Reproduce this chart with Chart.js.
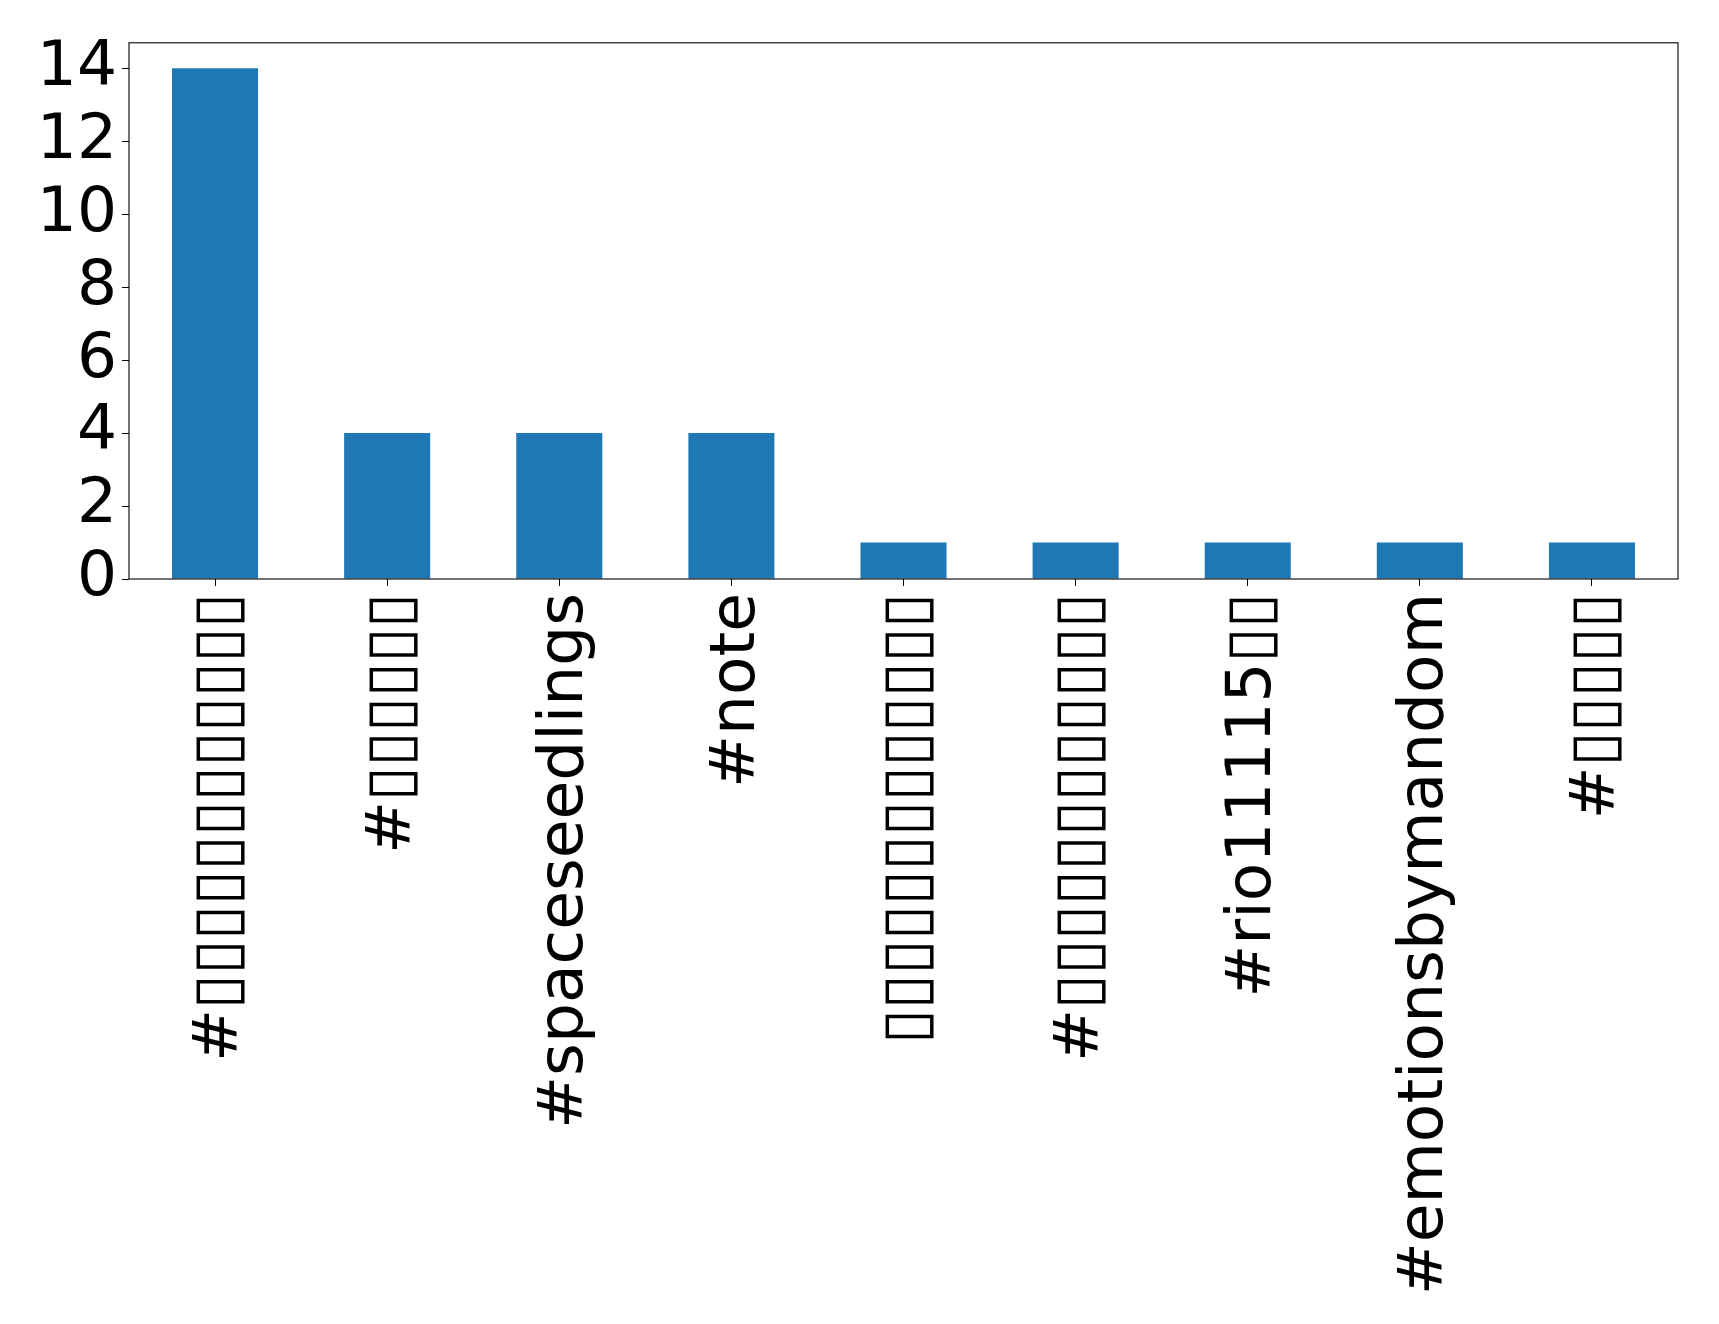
<!DOCTYPE html>
<html>
<head>
<meta charset="utf-8">
<script src="https://cdn.jsdelivr.net/npm/chart.js@4/dist/chart.umd.min.js"></script>
<style>
  html, body { margin: 0; padding: 0; background: #fff; }
  #wrap { width: 1719px; height: 1324px; }
</style>
</head>
<body>
<div id="wrap"><canvas id="c" width="1719" height="1324"></canvas></div>
<script>
// hashtag counts (labels rendered as in the source, missing glyphs shown as boxes)
const tags = [
  '#▯▯▯▯▯▯▯▯▯▯▯▯',
  '#▯▯▯▯▯▯',
  '#spaceseedlings',
  '#note',
  '▯▯▯▯▯▯▯▯▯▯▯▯▯',
  '#▯▯▯▯▯▯▯▯▯▯▯▯',
  '#rio11115▯▯',
  '#emotionsbymandom',
  '#▯▯▯▯▯'
];
const counts = [14, 4, 4, 4, 1, 1, 1, 1, 1];
const yTicks = [0, 2, 4, 6, 8, 10, 12, 14];

const font = { family: 'DejaVu Sans', size: 63 };

// box around the plot area like matplotlib's spines
const frame = {
  id: 'frame',
  afterDraw(chart) {
    const { ctx, chartArea: a } = chart;
    ctx.save();
    ctx.strokeStyle = '#000';
    ctx.lineWidth = 1.1;
    ctx.strokeRect(a.left, a.top, a.right - a.left, a.bottom - a.top);
    ctx.restore();
  }
};

new Chart(document.getElementById('c'), {
  type: 'bar',
  data: {
    labels: tags,
    datasets: [{
      data: counts,
      backgroundColor: '#1f77b4',
      barPercentage: 0.5,
      categoryPercentage: 1.0
    }]
  },
  options: {
    responsive: false,
    animation: false,
    layout: { padding: { top: 41, right: 41, left: 0, bottom: 0 } },
    plugins: { legend: { display: false }, tooltip: { enabled: false } },
    scales: {
      x: {
        offset: true,
        grid: { display: true, offset: false, drawOnChartArea: false, drawTicks: true, tickLength: 7, color: '#000' },
        border: { display: false },
        ticks: { color: '#000', font, minRotation: 90, maxRotation: 90, autoSkip: false, padding: 7, labelOffset: 6 },
        afterFit(s) { s.height = 745; }
      },
      y: {
        min: 0,
        max: 14.7,
        grid: { display: true, drawOnChartArea: false, drawTicks: true, tickLength: 7, color: '#000' },
        border: { display: false },
        ticks: { color: '#000', font, stepSize: 2, includeBounds: false, autoSkip: false, padding: 5 },
        afterBuildTicks(s) { s.ticks = yTicks.map(v => ({ value: v })); },
        afterFit(s) { s.width = 129; }
      }
    }
  },
  plugins: [frame]
});
</script>
</body>
</html>
